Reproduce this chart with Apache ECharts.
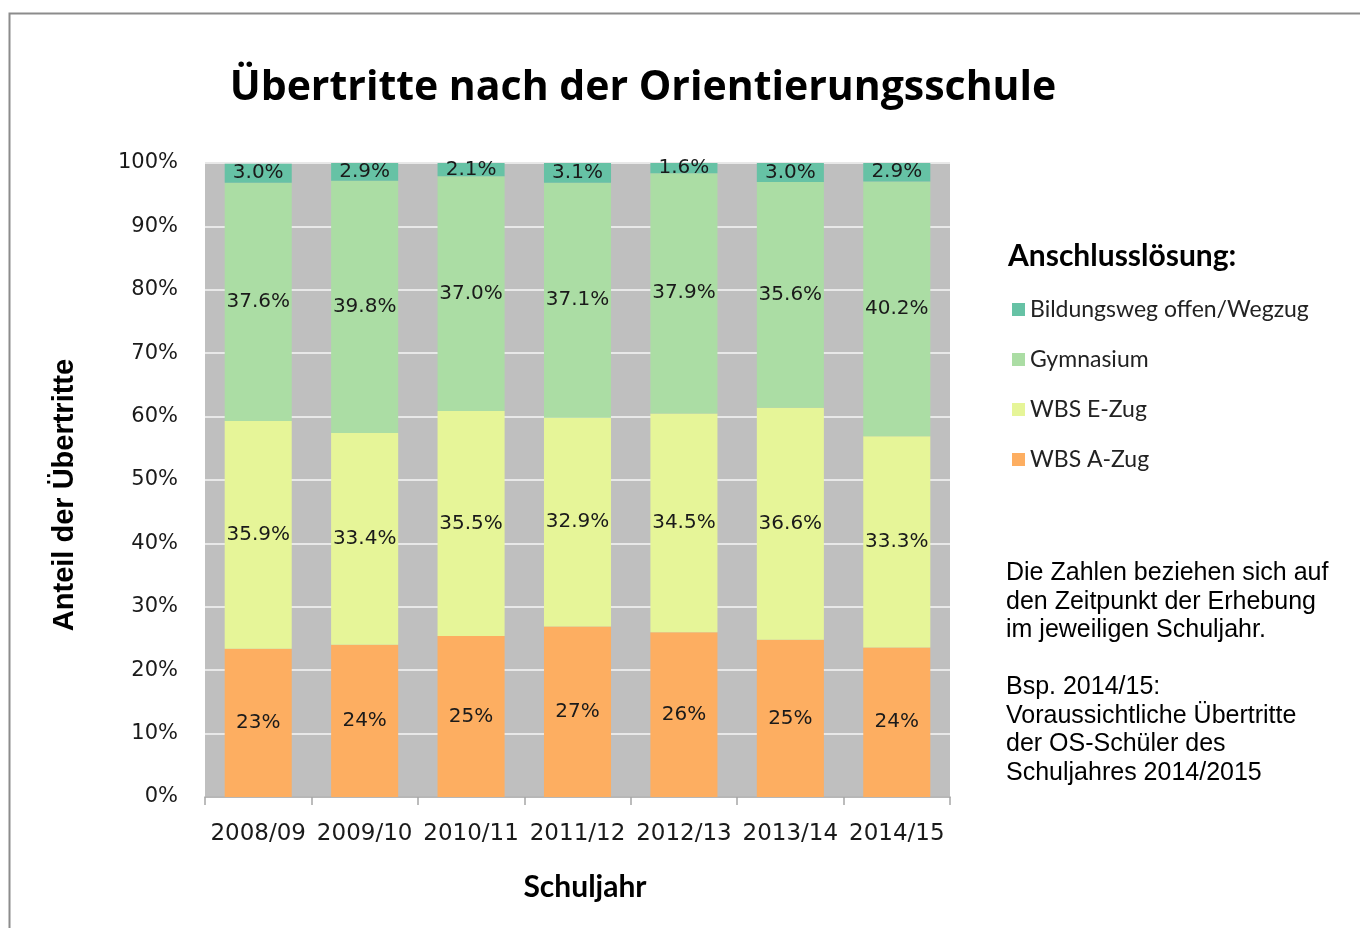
<!DOCTYPE html>
<html>
<head>
<meta charset="utf-8">
<style>
  html, body { margin: 0; padding: 0; background: #fff; }
  #chart { width: 1360px; height: 928px; }
</style>
<script src="https://cdn.jsdelivr.net/npm/echarts@6/dist/echarts.min.js"></script>
</head>
<body>
<div id="chart"></div>
<script>
const years = ['2008/09', '2009/10', '2010/11', '2011/12', '2012/13', '2013/14', '2014/15']
const wbsA = [23.4, 24.0, 25.4, 26.9, 26.0, 24.8, 23.6]
const wbsE = [35.9, 33.4, 35.5, 32.9, 34.5, 36.6, 33.3]
const gymnasium = [37.6, 39.8, 37.0, 37.1, 37.9, 35.6, 40.2]
const offen = [3.0, 2.9, 2.1, 3.1, 1.6, 3.0, 2.9]
const legendNames = ['Bildungsweg offen/Wegzug', 'Gymnasium', 'WBS E-Zug', 'WBS A-Zug']

const labelFont = {
    show: true,
    position: 'inside',
    color: '#1a1a1a',
    fontFamily: 'DejaVu Sans',
    fontSize: 20,
}

function makeSeries(name, data, color, decimals) {
    return {
        name: name,
        type: 'bar',
        stack: 'total',
        data: data,
        barCategoryGap: '37%',
        itemStyle: { color: color },
        label: Object.assign({}, labelFont, {
            formatter: (p) => decimals ? p.value.toFixed(1) + '%' : Math.round(p.value) + '%'
        }),
    }
}

const chart = echarts.init(document.getElementById('chart'), null, { renderer: 'canvas' })
chart.setOption({
    animation: false,
    backgroundColor: '#fff',
    graphic: [{
        type: 'rect',
        shape: { x: 9.5, y: 13.5, width: 1400, height: 1000 },
        style: { fill: 'none', stroke: '#8c8c8c', lineWidth: 2 },
        z: -10,
    }, {
        type: 'rect',
        shape: { x: 205, y: 163, width: 745, height: 634 },
        style: { fill: '#bfbfbf' },
        z: -5,
    }, {
        // y axis name
        type: 'text',
        x: 65, y: 495,
        rotation: Math.PI / 2,
        style: {
            text: 'Anteil der Übertritte',
            fontFamily: 'Liberation Sans', fontWeight: 'bold', fontSize: 29,
            fill: '#000', align: 'center', verticalAlign: 'middle',
        },
    }, {
        // x axis name
        type: 'text',
        x: 585, y: 887,
        style: {
            text: 'Schuljahr',
            fontFamily: 'Lato', fontWeight: 'bold', fontSize: 30,
            fill: '#000', align: 'center', verticalAlign: 'middle',
        },
    }],
    title: [{
        text: 'Übertritte nach der Orientierungsschule',
        left: 638, top: 63, textAlign: 'center',
        textStyle: { fontFamily: 'Open Sans', fontWeight: 'bold', fontSize: 41, color: '#000' },
    }, {
        text: 'Anschlusslösung:',
        left: 1003, top: 236,
        textStyle: { fontFamily: 'Lato', fontWeight: 'bold', fontSize: 30, color: '#000' },
    }, {
        text: 'Die Zahlen beziehen sich auf\nden Zeitpunkt der Erhebung\nim jeweiligen Schuljahr.\n\nBsp. 2014/15:\nVoraussichtliche Übertritte\nder OS-Schüler des\nSchuljahres 2014/2015',
        left: 1006, top: 559, padding: 0,
        textStyle: { fontFamily: 'Liberation Sans', fontWeight: 'normal', fontSize: 25, lineHeight: 28.5, color: '#000' },
    }],
    legend: {
        orient: 'vertical',
        left: 1007, top: 293,
        itemWidth: 13, itemHeight: 13,
        itemGap: 27,
        icon: 'rect',
        data: legendNames,
        textStyle: { fontFamily: 'Lato', fontSize: 23, color: '#222', padding: [0, 0, 0, 0] },
    },
    grid: { left: 205, right: 410, top: 163, bottom: 131 },
    xAxis: {
        type: 'category',
        data: years,
        axisLine: { lineStyle: { color: '#a6a6a6', width: 1.5 } },
        axisTick: { show: true, length: 8, lineStyle: { color: '#a6a6a6', width: 1.5 } },
        axisLabel: { interval: 0, fontFamily: 'DejaVu Sans', fontSize: 23, color: '#1a1a1a', margin: 26 },
    },
    yAxis: {
        type: 'value',
        min: 0, max: 100, interval: 10,
        axisLine: { show: false },
        axisTick: { show: false },
        axisLabel: { formatter: '{value}%', fontFamily: 'DejaVu Sans', fontSize: 21, color: '#1a1a1a', margin: 27 },
        splitLine: { lineStyle: { color: '#e8e8e8', width: 2 } },
    },
    series: [
        makeSeries('WBS A-Zug', wbsA, '#fdae61', false),
        makeSeries('WBS E-Zug', wbsE, '#e6f598', true),
        makeSeries('Gymnasium', gymnasium, '#abdda4', true),
        makeSeries('Bildungsweg offen/Wegzug', offen, '#66c2a5', true),
    ],
})
</script>
</body>
</html>
